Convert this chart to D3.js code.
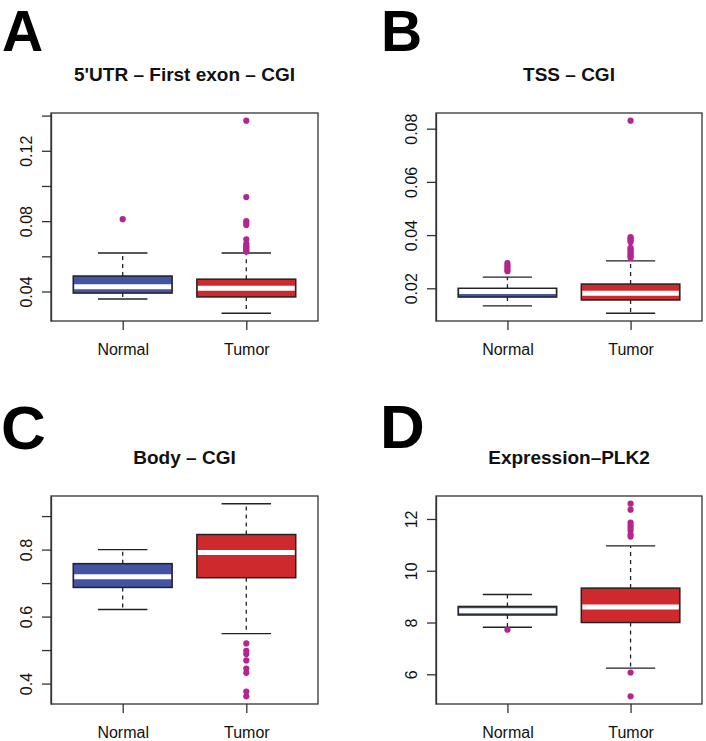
<!DOCTYPE html>
<html>
<head>
<meta charset="utf-8">
<script src="https://cdn.jsdelivr.net/npm/d3@7"></script>
<style>
  body { margin: 0; background: #fff; }
  svg { display: block; font-family: "Liberation Sans", Arial, Helvetica, sans-serif; }
</style>
</head>
<body>
<svg id="fig"></svg>
<script>
var groups = ["Normal", "Tumor"];
var panelLetters = ["A", "B", "C", "D"];
var panelTitles = ["5'UTR \u2013 First exon \u2013 CGI", "TSS \u2013 CGI", "Body \u2013 CGI", "Expression\u2013PLK2"];

// five-number summaries: lower whisker, Q1, median, Q3, upper whisker
var statsA = [[0.0357, 0.0391, 0.0427, 0.0488, 0.0619], [0.0276, 0.0369, 0.0418, 0.0470, 0.0619]];
var statsB = [[0.0134, 0.0167, 0.0188, 0.0200, 0.0242], [0.0106, 0.0156, 0.0181, 0.0216, 0.0303]];
var statsC = [[0.621, 0.687, 0.719, 0.758, 0.800], [0.549, 0.716, 0.791, 0.845, 0.937]];
var statsD = [[7.82, 8.29, 8.45, 8.62, 9.08], [6.24, 8.00, 8.60, 9.33, 10.96]];

var outliersA = [[0.0811], [0.1371, 0.0937, 0.0800, 0.0789, 0.0778, 0.0697, 0.0672, 0.0661, 0.0652, 0.0643, 0.0635, 0.0627]];
var outliersB = [[0.0295, 0.0287, 0.0279, 0.0270, 0.0264], [0.0830, 0.0392, 0.0387, 0.0381, 0.0374, 0.0352, 0.0346, 0.0340, 0.0333, 0.0326, 0.0320, 0.0314]];
var outliersC = [[], [0.520, 0.498, 0.488, 0.469, 0.445, 0.432, 0.376, 0.362]];
var outliersD = [[7.72], [12.59, 12.36, 11.86, 11.75, 11.65, 11.55, 11.40, 11.32, 6.07, 5.15]];

var ticksA = [0.04, 0.06, 0.08, 0.10, 0.12, 0.14];
var ticksB = [0.02, 0.04, 0.06, 0.08];
var ticksC = [0.4, 0.5, 0.6, 0.7, 0.8, 0.9];
var ticksD = [6, 8, 10, 12];
var tickLabelsA = ["0.04", "", "0.08", "", "0.12", ""];
var tickLabelsB = ["0.02", "0.04", "0.06", "0.08"];
var tickLabelsC = ["0.4", "", "0.6", "", "0.8", ""];
var tickLabelsD = ["6", "8", "10", "12"];

var boxColors = ["#4354a4", "#ce2a2e"];
var outlierColor = "#b3268f";
var ink = "#222";

var W = 706, H = 741;
var layout = [
    { left: 51, right: 318, top: 113, bottom: 321, lx: 2, ly: 51, lsize: 57 },
    { left: 436, right: 702, top: 113, bottom: 321, lx: 381, ly: 51, lsize: 57 },
    { left: 51, right: 318, top: 496, bottom: 704, lx: 1, ly: 449, lsize: 62 },
    { left: 436, right: 702, top: 496, bottom: 704, lx: 380, ly: 448, lsize: 62 }
];
var allStats = [statsA, statsB, statsC, statsD];
var allOut = [outliersA, outliersB, outliersC, outliersD];
var allTicks = [ticksA, ticksB, ticksC, ticksD];
var allTickLabels = [tickLabelsA, tickLabelsB, tickLabelsC, tickLabelsD];

var svg = d3.select("#fig").attr("width", W).attr("height", H);

function drawPanel(i) {
    var L = layout[i];
    var stats = allStats[i], outs = allOut[i];
    var g = svg.append("g");

    // R style: data range padded by 4%
    var vals = [];
    stats.forEach(function(s) { vals = vals.concat(s); });
    outs.forEach(function(o) { vals = vals.concat(o); });
    var ext = d3.extent(vals);
    var pad = (ext[1] - ext[0]) * 0.04;
    var y = d3.scaleLinear().domain([ext[0] - pad, ext[1] + pad]).range([L.bottom, L.top]);
    var x = d3.scaleLinear().domain([0.42, 2.58]).range([L.left, L.right]);
    var halfBox = (x(1.4) - x(1)) ;
    var halfCap = halfBox / 2;

    var boxes = g.selectAll("g.bx").data(stats).enter().append("g").attr("class", "bx");

    // dashed whiskers
    boxes.append("line")
        .attr("x1", function(d, j) { return x(j + 1); })
        .attr("x2", function(d, j) { return x(j + 1); })
        .attr("y1", function(d) { return y(d[3]); })
        .attr("y2", function(d) { return y(d[4]); })
        .attr("stroke", ink).attr("stroke-width", 1.3).attr("stroke-dasharray", "4,4");
    boxes.append("line")
        .attr("x1", function(d, j) { return x(j + 1); })
        .attr("x2", function(d, j) { return x(j + 1); })
        .attr("y1", function(d) { return y(d[1]); })
        .attr("y2", function(d) { return y(d[0]); })
        .attr("stroke", ink).attr("stroke-width", 1.3).attr("stroke-dasharray", "4,4");
    // staples
    [0, 4].forEach(function(k) {
        boxes.append("line")
            .attr("x1", function(d, j) { return x(j + 1) - halfCap; })
            .attr("x2", function(d, j) { return x(j + 1) + halfCap; })
            .attr("y1", function(d) { return y(d[k]); })
            .attr("y2", function(d) { return y(d[k]); })
            .attr("stroke", ink).attr("stroke-width", 1.4);
    });
    // box
    boxes.append("rect")
        .attr("x", function(d, j) { return x(j + 1) - halfBox; })
        .attr("width", 2 * halfBox)
        .attr("y", function(d) { return y(d[3]); })
        .attr("height", function(d) { return y(d[1]) - y(d[3]); })
        .attr("fill", function(d, j) { return boxColors[j]; })
        .attr("stroke", ink).attr("stroke-width", 1.5);
    // median
    boxes.append("line")
        .attr("x1", function(d, j) { return x(j + 1) - halfBox + 1; })
        .attr("x2", function(d, j) { return x(j + 1) + halfBox - 1; })
        .attr("y1", function(d) { return y(d[2]); })
        .attr("y2", function(d) { return y(d[2]); })
        .attr("stroke", "#fff").attr("stroke-width", 5);

    // outliers
    var pts = [];
    outs.forEach(function(o, j) { o.forEach(function(v) { pts.push({ g: j, v: v }); }); });
    g.selectAll("circle").data(pts).enter().append("circle")
        .attr("cx", function(d) { return x(d.g + 1); })
        .attr("cy", function(d) { return y(d.v); })
        .attr("r", 3.1)
        .attr("fill", outlierColor);

    // frame
    g.append("rect")
        .attr("x", L.left).attr("y", L.top)
        .attr("width", L.right - L.left).attr("height", L.bottom - L.top)
        .attr("fill", "none").attr("stroke", "#333").attr("stroke-width", 1.3);

    // y axis
    var labels = allTickLabels[i];
    var yAxis = d3.axisLeft(y).tickValues(allTicks[i]).tickSize(9).tickSizeOuter(0)
        .tickFormat(function(d, k) { return labels[k]; });
    var ya = g.append("g").attr("transform", "translate(" + L.left + ",0)").call(yAxis);
    ya.select(".domain").attr("stroke", "#333").attr("stroke-width", 1.3);
    ya.selectAll(".tick line").attr("stroke", "#333").attr("stroke-width", 1.3);
    ya.selectAll(".tick text")
        .attr("font-size", 16).attr("fill", "#111")
        .attr("font-family", "'Liberation Sans', Arial, sans-serif")
        .attr("text-anchor", "middle")
        .attr("x", 0).attr("dy", 0)
        .attr("transform", "translate(-19,0) rotate(-90)");

    // x axis
    var xAxis = d3.axisBottom(x).tickValues([1, 2]).tickSize(9).tickSizeOuter(0)
        .tickFormat(function(d) { return groups[d - 1]; });
    var xa = g.append("g").attr("transform", "translate(0," + L.bottom + ")").call(xAxis);
    xa.select(".domain").remove();
    xa.selectAll(".tick line").attr("stroke", "#333").attr("stroke-width", 1.3);
    xa.selectAll(".tick text")
        .attr("font-size", 16).attr("fill", "#111")
        .attr("font-family", "'Liberation Sans', Arial, sans-serif")
        .attr("y", 34).attr("dy", 0);

    // title
    g.append("text")
        .attr("x", (L.left + L.right) / 2).attr("y", L.top - 32)
        .attr("text-anchor", "middle")
        .attr("font-size", 19).attr("font-weight", "bold").attr("fill", "#111")
        .text(panelTitles[i]);

    // panel letter
    g.append("text")
        .attr("x", L.lx).attr("y", L.ly)
        .attr("font-size", L.lsize).attr("font-weight", "bold").attr("fill", "#000")
        .text(panelLetters[i]);
}

for (var i = 0; i < 4; i++) drawPanel(i);
</script>
</body>
</html>
